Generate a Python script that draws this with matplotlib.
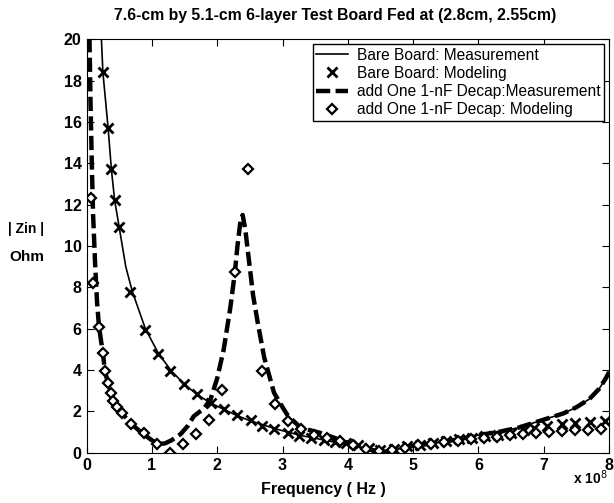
import matplotlib
matplotlib.use("Agg")
import matplotlib.pyplot as plt

plt.rcParams['font.family'] = ['Liberation Sans', 'DejaVu Sans']

# frequency in units of 1e8 Hz, |Zin| in Ohm
bare_meas_f = [0.22, 0.25, 0.33, 0.38, 0.43, 0.5, 0.6, 0.7, 0.9, 1.1, 1.3, 1.5, 1.7, 1.9,
               2.1, 2.3, 2.5, 2.7, 2.9, 3.1, 3.3, 3.5, 3.7, 3.9, 4.1, 4.3, 4.5, 4.6, 4.8,
               5.0, 5.3, 5.6, 6.0, 6.3, 6.6, 7.0, 7.3, 7.5, 7.7, 7.85, 7.95, 8.0]
bare_meas_z = [20.5, 18.4, 15.7, 13.7, 12.2, 10.9, 9.0, 7.8, 6.0, 4.8, 3.95, 3.3, 2.8, 2.4,
               2.1, 1.8, 1.55, 1.35, 1.15, 0.98, 0.82, 0.7, 0.57, 0.45, 0.32, 0.18, 0.07, 0.05, 0.2,
               0.33, 0.45, 0.6, 0.85, 1.0, 1.2, 1.6, 1.9, 2.2, 2.6, 3.1, 3.6, 3.9]

bare_model_f = [0.25, 0.33, 0.38, 0.43, 0.5, 0.67, 0.9, 1.09, 1.27, 1.49, 1.69, 1.9, 2.1,
                2.31, 2.51, 2.69, 2.87, 3.08, 3.26, 3.44, 3.64, 3.8, 3.97, 4.15, 4.33, 4.5,
                4.7, 4.9, 5.1, 5.3, 5.5, 5.7, 5.9, 6.1, 6.3, 6.5, 6.7, 6.85, 7.05, 7.28,
                7.48, 7.71, 7.94]
bare_model_z = [18.4, 15.7, 13.7, 12.2, 10.9, 7.75, 5.95, 4.78, 3.96, 3.31, 2.82, 2.41, 2.09,
                1.81, 1.57, 1.31, 1.15, 0.96, 0.8, 0.72, 0.6, 0.5, 0.45, 0.35, 0.25, 0.15,
                0.2, 0.3, 0.38, 0.45, 0.55, 0.65, 0.72, 0.8, 0.88, 0.97, 1.08, 1.2, 1.3, 1.38,
                1.45, 1.5, 1.55]

decap_meas_f = [0.04, 0.06, 0.08, 0.1, 0.13, 0.16, 0.19, 0.25, 0.28, 0.33, 0.41, 0.5, 0.66,
                0.87, 1.0, 1.1, 1.2, 1.3, 1.44, 1.55, 1.64, 1.8, 1.9, 2.0, 2.1, 2.2, 2.27,
                2.31, 2.36, 2.39, 2.43, 2.49, 2.55, 2.62, 2.72, 2.87, 3.0, 3.08, 3.28, 3.59,
                3.9, 4.1, 4.3, 4.5, 4.6, 4.8, 5.0, 5.3, 5.6, 6.0, 6.3, 6.6, 7.0, 7.3, 7.5,
                7.7, 7.85, 7.95, 8.0]
decap_meas_z = [21.0, 17.0, 14.0, 11.5, 9.2, 7.3, 6.1, 4.8, 4.0, 3.3, 2.6, 2.1, 1.45,
                0.9, 0.6, 0.42, 0.45, 0.6, 0.9, 1.3, 1.76, 2.15, 2.6, 3.6, 5.0, 7.0, 8.7,
                10.0, 11.3, 11.5, 10.8, 9.2, 7.6, 6.3, 4.6, 2.9, 2.2, 1.8, 1.2, 0.95,
                0.6, 0.35, 0.17, 0.06, 0.05, 0.2, 0.33, 0.45, 0.6, 0.85, 1.0, 1.2, 1.6, 1.9, 2.2,
                2.6, 3.1, 3.6, 3.9]

decap_model_f = [0.07, 0.1, 0.19, 0.25, 0.28, 0.33, 0.37, 0.41, 0.47, 0.55, 0.68, 0.88,
                 1.08, 1.28, 1.48, 1.68, 1.88, 2.08, 2.27, 2.47, 2.68, 2.88, 3.08, 3.28,
                 3.48, 3.68, 3.88, 4.08, 4.28, 4.48, 4.68, 4.88, 5.08, 5.28, 5.48, 5.68,
                 5.88, 6.08, 6.28, 6.48, 6.68, 6.88, 7.08, 7.28, 7.48, 7.68, 7.88]
decap_model_z = [12.3, 8.2, 6.1, 4.8, 3.95, 3.35, 2.9, 2.5, 2.2, 1.9, 1.4, 0.95,
                 0.4, 0.0, 0.42, 0.9, 1.6, 3.03, 8.75, 13.7, 3.96, 2.34, 1.55, 1.15,
                 0.85, 0.7, 0.55, 0.35, 0.2, 0.1, 0.15, 0.25, 0.35, 0.42, 0.5, 0.58,
                 0.65, 0.72, 0.78, 0.85, 0.9, 0.95, 1.0, 1.05, 1.1, 1.12, 1.15]

fig = plt.figure(figsize=(6.14, 5.03), dpi=100)
ax = fig.add_axes([0.141, 0.100, 0.851, 0.822])

ax.plot(bare_meas_f, bare_meas_z, color='black', lw=1.2, label='Bare Board: Measurement')
ax.plot(bare_model_f, bare_model_z, 'x', color='black', ms=7.5, mew=2.0, label='Bare Board: Modeling')
ax.plot(decap_meas_f, decap_meas_z, color='black', lw=3.2, dashes=(3.2, 1.2),
        label='add One 1-nF Decap:Measurement')
ax.plot(decap_model_f, decap_model_z, 'D', color='black', mfc='white', ms=5, mew=1.6,
        label='add One 1-nF Decap: Modeling')

ax.set_xlim(0, 8)
ax.set_ylim(0, 20)
ax.set_xticks(range(0, 9))
ax.set_yticks(range(0, 21, 2))
ax.tick_params(direction='in', top=True, right=True, length=5, labelsize=11.5)
for lab in ax.get_xticklabels() + ax.get_yticklabels():
    lab.set_fontweight('bold')

ax.legend(loc='upper right', fontsize=11.2, frameon=True, fancybox=False, edgecolor='black',
          framealpha=1, borderaxespad=0.3, handlelength=2.0, labelspacing=0.2,
          borderpad=0.25, handletextpad=0.6)

fig.text(0.546, 0.970, '7.6-cm by 5.1-cm 6-layer Test Board Fed at (2.8cm, 2.55cm)',
         ha='center', va='center', fontsize=11.3, fontweight='bold')
fig.text(0.013, 0.545, '| Zin |', ha='left', va='center', fontsize=10, fontweight='bold')
fig.text(0.016, 0.49, 'Ohm', ha='left', va='center', fontsize=11, fontweight='bold')
fig.text(0.526, 0.026, 'Frequency ( Hz )', ha='center', va='center', fontsize=11.5,
         fontweight='bold')
fig.text(0.962, 0.05, r'x 10$^{8}$', ha='center', va='center', fontsize=10,
         fontweight='bold')

fig.savefig('out.png', dpi=100)
